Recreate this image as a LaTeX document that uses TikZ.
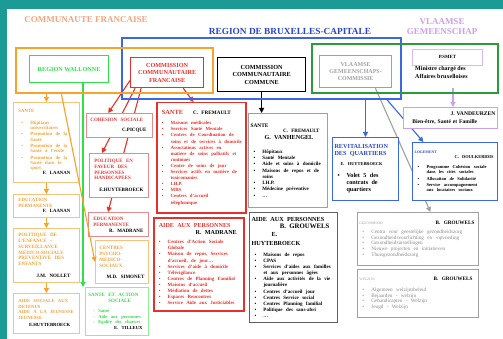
\documentclass[tikz,border=0pt]{standalone}
\usepackage{fontspec}
\setmainfont{Liberation Serif}
\usetikzlibrary{arrows.meta}
\pgfdeclarelayer{bg}
\pgfdeclarelayer{back}
\pgfsetlayers{bg,back,main}

\definecolor{tealbar}{HTML}{1B9A96}
\definecolor{cftitle}{HTML}{F5A57E}
\definecolor{cforange}{HTML}{F5A32A}
\definecolor{cflight}{HTML}{F6C27E}
\definecolor{cftext}{HTML}{F2A33A}
\definecolor{brblue}{HTML}{3A66E8}
\definecolor{brtext}{HTML}{2A44CC}
\definecolor{vgreen}{HTML}{2E9B3A}
\definecolor{rwgreen}{HTML}{2FE04A}
\definecolor{ltgreen}{HTML}{90EE98}
\definecolor{sagreen}{HTML}{3BD84E}
\definecolor{ccred}{HTML}{E8302A}
\definecolor{ltred}{HTML}{E88A8A}
\definecolor{cfred}{HTML}{E33A3A}
\definecolor{vgpurple}{HTML}{C9A2EE}
\definecolor{vglight}{HTML}{DCB8F4}
\definecolor{vggray}{HTML}{A0A0A0}
\definecolor{gydark}{HTML}{606060}
\definecolor{gytext}{HTML}{8A8A8A}

\newcommand\fs[2]{\fontsize{#1}{#2}\selectfont}
\newcommand\bul{\hspace*{3pt}\makebox[9pt][l]{\textbullet}}
\newcommand\cont{\hspace*{12pt}}
\hyphenpenalty=10000

\begin{document}
\begin{tikzpicture}[x=1pt,y=-1pt]
\tikzset{
  zone/.style={anchor=north west,inner sep=0pt,line width=1.6pt},
  box/.style={anchor=north west,fill=white,inner xsep=2pt,inner ysep=1pt,align=left,font=\bfseries},
  tag/.style={align=center,font=\bfseries},
  link/.style={-{Triangle[length=5pt,width=5pt]},line width=1.1pt},
}
\useasboundingbox (0,0) rectangle (503,339);
\begin{pgfonlayer}{bg}
\fill[tealbar] (0,0) rectangle (503,339);
\fill[white] (7,9) rectangle (503,339);
\end{pgfonlayer}

% titles
\node[tag,text=cftitle,font=\bfseries\fs{9}{10}] (cftitle) at (86,20) {COMMUNAUTE FRANCAISE};
\node[tag,text=brtext,font=\bfseries\fs{9.3}{10}] (brtitle) at (290,31) {REGION DE BRUXELLES-CAPITALE};
\node[tag,text=vgpurple,font=\bfseries\fs{9}{10}] (vgtitle) at (442,27) {VLAAMSE\\GEMEENSCHAP};

% frames
\node[zone,draw=brblue,minimum width=279pt,minimum height=61pt] (brframe) at (121,37) {};
\node[zone,draw=vgreen,minimum width=186pt,minimum height=49pt] (vgframe) at (311,43) {};
\node[zone,draw=cforange,line width=2pt,minimum width=197pt,minimum height=45pt] (cfframe) at (15,47) {};

% institutions
\node[box,align=center,draw=rwgreen,line width=1.2pt,text=rwgreen,font=\bfseries\fs{6.2}{7},minimum width=79pt,minimum height=27pt] (rw) at (29,55) {REGION WALLONNE};
\node[box,align=center,draw=ccred,line width=1.2pt,text=ccred,font=\bfseries\fs{6.2}{7.4},minimum width=73pt,minimum height=30pt] (cocof) at (130,57) {COMMISSION\\COMMUNAUTAIRE\\FRANCAISE};
\node[box,align=center,draw=black,line width=1.2pt,font=\bfseries\fs{6.2}{7.4},minimum width=88pt,minimum height=34pt] (cocom) at (217,57) {COMMISSION\\COMMUNAUTAIRE\\COMMUNE};
\node[box,align=center,draw=vggray,line width=1.2pt,text=vggray,font=\bfseries\fs{6}{7.4},minimum width=72pt,minimum height=32pt] (vgc) at (319,55) {VLAAMSE\\GEMEENSCHAPS-\\COMMISSIE};
\node[box,align=center,draw=vglight,line width=0.8pt,font=\bfseries\fs{4.8}{6},minimum width=70pt,minimum height=16pt] (psmet) at (412,49) {P.SMET};
\node[box,fill=none,font=\bfseries\fs{6}{8}] (smetmin) at (413,65) {Ministre chargé des\\Affaires bruxelloises};
\coordinate (cfdrop) at (61,92);
\coordinate (rwdrop) at (83,82);
\coordinate (smetdrop) at (453,88);

% Communaute francaise
\node[box,draw=cflight,line width=0.8pt,text=cftext,inner xsep=5pt,text width=56pt,minimum height=80pt] (lsante) at (13,102) {{\fs{4.8}{5.3}SANTE\\[6pt]\bul Hôpitaux\\\cont universitaires\\[1pt]\bul Promotion de la\\\cont Santé\\[1pt]\bul Promotion de la\\\cont Santé à l'école\\[1pt]\bul Promotion de la\\\cont Santé dans le\\\cont sport\\\hspace*{\fill}{\color{black}F. LAANAN}\hspace*{4pt}\par}};
\node[box,draw=cflight,line width=0.8pt,text=cftext,inner xsep=5pt,text width=56pt,minimum height=23pt] (leduc) at (13,194) {{\fs{4.8}{5.5}EDUCATION\\PERMANENTE\\\hspace*{\fill}{\color{black}F. LAANAN}\hspace*{4pt}\par}};
\node[box,draw=cflight,line width=0.8pt,text=cftext,inner xsep=5pt,text width=56pt,minimum height=54pt] (lenfance) at (13,228) {{\fs{5}{5.8}POLITIQUE DE\\L'ENFANCE –\\SURVEILLANCE\\MEDICO-SOCIALE\\PREVENTIVE DES\\ENFANTS\\[6pt]\hspace*{\fill}{\color{black}J.M. NOLLET}\hspace*{4pt}\par}};
\node[box,draw=cflight,line width=0.8pt,text=cftext,inner xsep=5pt,text width=56pt,minimum height=40pt] (ldetenus) at (13,293) {{\fs{4.7}{5.5}AIDE SOCIALE AUX\\DETENUS\\AIDE A LA JEUNESSE\\JEUNESSE\\[2pt]\hspace*{\fill}{\color{black}E.HUYTEBROECK}\hspace*{4pt}\par}};

% COCOF
\node[box,draw=ltred,line width=0.8pt,text=cfred,inner xsep=4pt,text width=58pt,minimum height=24pt] (cohesion) at (86,113) {{\fs{5}{6}COHESION SOCIALE\\[4pt]\hspace*{\fill}{\color{black}C.PICQUE}\hspace*{2pt}\par}};
\node[box,draw=ltred,line width=0.8pt,text=cfred,inner xsep=5pt,text width=49pt,minimum height=44pt] (handicap) at (89,153) {{\fs{5}{5.6}POLITIQUE EN\\FAVEUR DES\\PERSONNES\\HANDICAPEES\\[6pt]\hspace*{\fill}{\color{black}E.HUYTEBROECK}\par}};
\node[box,draw=ltred,line width=0.8pt,text=cfred,inner xsep=5pt,text width=50pt,minimum height=24pt] (cfeduc) at (88,212) {{\fs{5}{6}EDUCATION\\PERMANENTE\\\hspace*{\fill}{\color{black}R. MADRANE}\par}};
\node[box,draw=cflight,line width=0.8pt,text=cftext,inner xsep=4pt,text width=45pt,minimum height=43pt] (cpms) at (95,240) {{\fs{5}{6}CENTRES\\PSYCHO-\\MEDICO-\\SOCIAUX\\[5pt]\hspace*{\fill}{\color{black}M.D. SIMONET}\par}};
\node[box,draw=ltgreen,line width=0.8pt,text=sagreen,inner xsep=3pt,text width=57pt,minimum height=48pt] (saction) at (85,287) {{\fs{5}{6}SANTE ET ACTION\\\hspace*{20pt}SOCIALE\par}\vspace{4pt}{\fs{4.6}{5.6}\hspace*{5pt}- Santé\\\hspace*{5pt}- Aide aux personnes\\\hspace*{5pt}- Egalité des chances\\\hspace*{\fill}{\color{black}E. TILLEUX}\hspace*{3pt}\par}};
\node[box,draw=ccred,line width=1.5pt,text=ccred,text width=85pt,minimum height=110pt] (cfsante) at (156,102) {{\fs{6.4}{7}\hspace*{3pt}SANTE\hspace{10pt}{\color{black}\fs{5.2}{7}C. FREMAULT}\par}\vspace{4pt}{\fs{4.8}{6.1}\bul Maisons médicales\\\bul Services Santé Mentale\\\bul Centres de Coordination de\\\cont soins et de services à domicile\\\bul Associations actives en\\\cont matière de soins palliatifs et\\\cont continués\\\bul Centre de soins de jour\\\bul Services actifs en matière de\\\cont toxicomanies\\\bul I.H.P.\\\bul MRS\\\bul Centres d'accueil\\\cont téléphonique\par}};
\node[box,draw=ccred,line width=1.5pt,text=ccred,text width=86pt,minimum height=93pt] (cfaide) at (153,217) {{\fs{6.1}{7}\hspace*{3pt}AIDE AUX PERSONNES\\\hspace*{\fill}{\color{black}R. MADRANE}\hspace*{5pt}\par}\vspace{3pt}{\fs{4.9}{6.1}\bul Centres d'Action Sociale\\\cont Globale\\\bul Maison de repos, Services\\\cont d'accueil, de jour…\\\bul Services d'aide à domicile\\\bul Télévigilance\\\bul Centres de Planning Familial\\\bul Maisons d'accueil\\\bul Médiation de dettes\\\bul Espaces Rencontres\\\bul Service Aide aux Justiciables\par}};

% COCOM
\node[box,draw=vggray,line width=1pt,text width=75pt,minimum height=94pt] (cocsante) at (248,113) {{\fs{5.4}{6}SANTE\par}{\fs{5}{5.5}\hspace*{\fill}C. FREMAULT\hspace*{6pt}\par}{\fs{6.2}{7}\hspace*{14pt}G. VANHENGEL\par}\vspace{7pt}{\fs{5}{6.3}\bul Hôpitaux\\\bul Santé Mentale\\\bul Aide et soins à domicile\\\bul Maisons de repos et de\\\cont soins\\\bul I.H.P.\\\bul Médecine préventive\\\bul …\par}};
\node[box,draw=gydark,line width=1pt,text width=84pt,minimum height=110pt] (cocaide) at (249,212) {{\fs{6.2}{6.6}AIDE AUX PERSONNES\\\hspace*{\fill}{\fs{6.8}{6.6}B. GROUWELS}\hspace*{6pt}\par}{\fs{6.2}{8.6}\hspace*{20pt}E.\\HUYTEBROECK\par}\vspace{5pt}{\fs{5}{6.1}\bul Maisons de repos\\\bul CPAS\\\bul Services d'aides aux familles\\\cont et aux personnes âgées\\\bul Aide aux activités de la vie\\\cont journalière\\\bul Centres d'accueil jour\\\bul Centres Service social\\\bul Centres Planning familial\\\bul Politique des sans-abri\\\bul …\par}};

% Region / Vlaamse Gemeenschap
\node[box,draw=vgpurple,line width=0.9pt,font=\bfseries\fs{5.6}{8},text width=90pt,minimum height=21pt] (jvdz) at (403,107) {\hspace*{\fill}J. VANDEURZEN\hspace*{2pt}\\\hspace*{7pt}Bien-être, Santé et Famille};
\node[box,draw=brblue,line width=1pt,text width=62pt,minimum height=63pt] (revit) at (332,137) {{\color{brtext}\fs{6.2}{7}REVITALISATION\\DES QUARTIERS\par}\vspace{5pt}{\fs{4.4}{5}\hspace*{6pt}E. HUYTEBROECK\par}\vspace{4pt}{\fs{6.2}{7.4}\bul Volet 5 des\\\cont contrats de\\\cont quartiers\par}};
\node[box,draw=brblue,line width=1pt,text width=81pt,minimum height=58pt] (logement) at (412,142) {{\color{brtext}\fs{3.8}{4.5}LOGEMENT\par}{\fs{4.4}{5}\hspace*{\fill}C. DOULKERIDIS\hspace*{2pt}\par}\vspace{5pt}{\fs{4.5}{5}\bul Programme Cohésion sociale\\\cont dans les cités sociales\\[1.5pt]\bul Allocation de Solidarité\\[1.5pt]\bul Service accompagnement\\\cont aux locataires sociaux\par}};
\node[box,draw=vggray,line width=0.8pt,text width=117pt,minimum height=53pt] (gezond) at (357,212) {{\fs{5.2}{6}{\mdseries\color{vggray}\fs{3.6}{6}GEZONDHEID}\hspace*{\fill}B. GROUWELS\hspace*{2pt}\par}\vspace{4pt}{\mdseries\color{gytext}\fs{5.2}{5.6}\bul Centra voor geestelijke gezondheidszorg\\\bul Gezondheidsvoorlichting en -opvoeding\\\bul Gezondheidsinstellingen\\\bul Nieuwe projecten en initiatieven\\\bul Thuisgezondheidszorg\par}};
\node[box,draw=vggray,line width=0.8pt,text width=117pt,minimum height=48pt] (welzijn) at (357,269) {{\fs{5.2}{6}{\mdseries\color{vggray}\fs{3.6}{6}WELZIJN}\hspace*{\fill}B. GROUWELS\hspace*{4pt}\par}\vspace{5pt}{\mdseries\color{gytext}\fs{5.2}{5.8}\bul Algemeen welzijnsbeleid\\\bul Bejaarden - welzijn\\\bul Gehandicapten - Welzijn\\\bul Jeugd - Welzijn\par}};

% arrows
\begin{pgfonlayer}{back}
\draw[link,cforange] (lsante.north |- cfframe.south) -- (lsante.north);
\draw[link,cforange] (lsante) -- (leduc);
\draw[link,cforange] (leduc) -- (lenfance);
\draw[link,cforange] (lenfance) -- (ldetenus);
\draw[link,rwgreen] (rwdrop) -- (rwdrop |- saction.north);
\draw[link,ccred] (cocof.192) -- (cohesion.132);
\draw[link,ccred] (cocof.206) -- (handicap.127);
\draw[link,ccred] (cocof.211) -- (cfeduc.130);
\draw[link,ccred] (cocof.316) -- (cfsante.98);
\draw[link] (cocom.south) -- (cocom.south |- cocsante.north);
\draw[link,brblue] (brframe.south -| revit.north) -- (revit.north);
\draw[link,brblue] (brframe.346) -- (logement.137);
\draw[link,vggray] (vgc.320) -- (gezond.65);
\draw[link,vgpurple] (smetdrop) -- (smetdrop |- jvdz.north);
\end{pgfonlayer}
\draw[link,cforange] (cfdrop) -- (cpms.west);
\end{tikzpicture}
\end{document}
